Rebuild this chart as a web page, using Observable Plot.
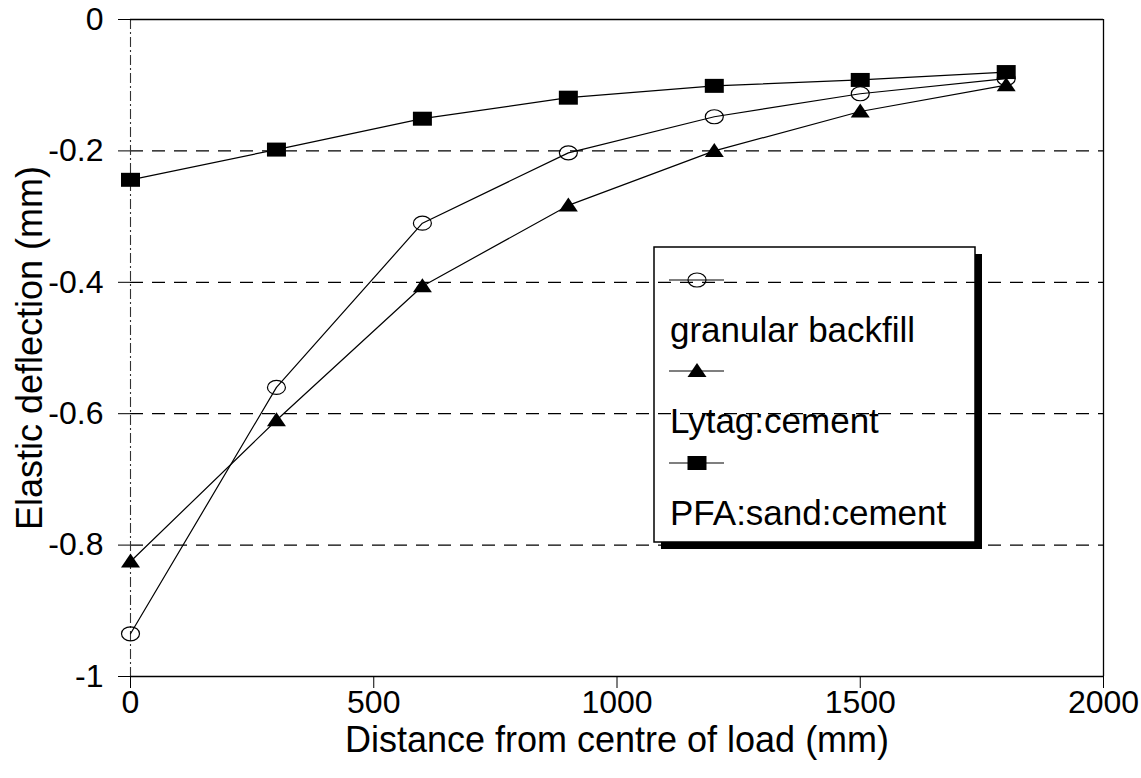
<!DOCTYPE html>
<html><head><meta charset="utf-8">
<script src="https://cdn.jsdelivr.net/npm/d3@7"></script>
<script src="https://cdn.jsdelivr.net/npm/@observablehq/plot@0.6"></script>
<style>
body{margin:0;background:#fff;}
#chart{width:1141px;height:778px;}
</style></head><body><div id="chart"></div>
<script>
// ---- data ----
const distance = [0, 300, 600, 900, 1200, 1500, 1800];
const granular = [-0.935, -0.56, -0.31, -0.203, -0.148, -0.113, -0.09];
const lytag    = [-0.825, -0.61, -0.406, -0.283, -0.2, -0.14, -0.10];
const pfa      = [-0.244, -0.198, -0.151, -0.119, -0.101, -0.092, -0.08];
const seriesNames = ["granular backfill", "Lytag:cement", "PFA:sand:cement"];
const xTicks = [0, 500, 1000, 1500, 2000];
const yTicks = [0, -0.2, -0.4, -0.6, -0.8, -1];
const gridValues = [-0.2, -0.4, -0.6, -0.8];
const xTitle = "Distance from centre of load (mm)";
const yTitle = "Elastic deflection (mm)";

function rows(name, vals) { return distance.map((d, i) => ({series: name, x: d, y: vals[i]})); }
const dGran = rows(seriesNames[0], granular);
const dLyt = rows(seriesNames[1], lytag);
const dPfa = rows(seriesNames[2], pfa);
const allData = [...dGran, ...dLyt, ...dPfa];

// ---- marker symbols ----
const K = 0.5523;
const ellipseSym = {draw(c) {
  const rx = 9, ry = 7;
  c.moveTo(rx, 0);
  c.bezierCurveTo(rx, K*ry, K*rx, ry, 0, ry);
  c.bezierCurveTo(-K*rx, ry, -rx, K*ry, -rx, 0);
  c.bezierCurveTo(-rx, -K*ry, -K*rx, -ry, 0, -ry);
  c.bezierCurveTo(K*rx, -ry, rx, -K*ry, rx, 0);
  c.closePath();
}};
const triSym = {draw(c) { c.moveTo(0, -8); c.lineTo(9.5, 6); c.lineTo(-9.5, 6); c.closePath(); }};
const sqSym = {draw(c) { c.rect(-9.5, -7, 19, 14); }};

const fmt = d => String(d);

const plot = Plot.plot({
  width: 1141, height: 778,
  marginLeft: 130, marginRight: 38, marginTop: 19, marginBottom: 102,
  x: {domain: [0, 2000]},
  y: {domain: [-1, 0]},
  style: {fontFamily: "'Liberation Sans', Arial, sans-serif", fontSize: "32px", color: "black", background: "white"},
  marks: [
    Plot.ruleY(gridValues, {stroke: "black", strokeWidth: 1.3, strokeDasharray: "13,9"}),
    Plot.ruleX([0], {stroke: "#333", strokeWidth: 1.1, strokeDasharray: "10,3,2,3"}),
    Plot.ruleX([2000], {stroke: "black", strokeWidth: 1.3}),
    Plot.ruleY([0], {stroke: "black", strokeWidth: 1.3}),
    Plot.ruleY([-1], {stroke: "black", strokeWidth: 1.3}),
    Plot.axisX({ticks: xTicks, tickSize: 12, tickPadding: 2, tickFormat: fmt, label: null, fontSize: 32}),
    Plot.axisY({ticks: yTicks, tickSize: 12, tickPadding: 15, tickFormat: fmt, label: null, fontSize: 32}),
    Plot.line(allData, {x: "x", y: "y", z: "series", stroke: "black", strokeWidth: 1.2}),
    Plot.dot(dGran, {x: "x", y: "y", symbol: ellipseSym, r: 8, fill: "none", stroke: "black", strokeWidth: 1.2}),
    Plot.dot(dLyt, {x: "x", y: "y", symbol: triSym, r: 8, fill: "black", stroke: "none"}),
    Plot.dot(dPfa, {x: "x", y: "y", symbol: sqSym, r: 8, fill: "black", stroke: "none"}),
    Plot.text([xTitle], {frameAnchor: "bottom", dy: 50, lineAnchor: "top", textAnchor: "middle", fontSize: 36, fill: "black"}),
    Plot.text([yTitle], {frameAnchor: "left", dx: -100, rotate: -90, textAnchor: "middle", lineAnchor: "middle", fontSize: 36, fill: "black"})
  ]
});

// ---- legend (box with drop shadow, transparent inside) ----
const svg = d3.select(plot);
const lg = svg.append("g").attr("font-family", "'Liberation Sans', Arial, sans-serif").attr("text-anchor", "start");
lg.append("path").attr("d", "M975,254 H982 V549 H661 V542 H975 Z").attr("fill", "black");
lg.append("rect").attr("x", 654).attr("y", 247).attr("width", 321).attr("height", 295)
  .attr("fill", "none").attr("stroke", "black").attr("stroke-width", 1.5);
const legendSyms = [ellipseSym, triSym, sqSym];
const sampleY = [280, 371, 463];
const textY = [342, 433, 525];
seriesNames.forEach((name, i) => {
  lg.append("line").attr("x1", 669).attr("x2", 724).attr("y1", sampleY[i]).attr("y2", sampleY[i])
    .attr("stroke", "black").attr("stroke-width", 1.2);
  lg.append("path").attr("d", d3.symbol().type(legendSyms[i])())
    .attr("transform", `translate(697,${sampleY[i]})`)
    .attr("fill", i === 0 ? "none" : "black").attr("stroke", i === 0 ? "black" : "none").attr("stroke-width", 1.2);
  lg.append("text").attr("x", 670).attr("y", textY[i]).attr("font-size", 35)
    .attr("text-anchor", "start").attr("fill", "black").text(name);
});

document.getElementById("chart").appendChild(plot);
</script></body></html>
